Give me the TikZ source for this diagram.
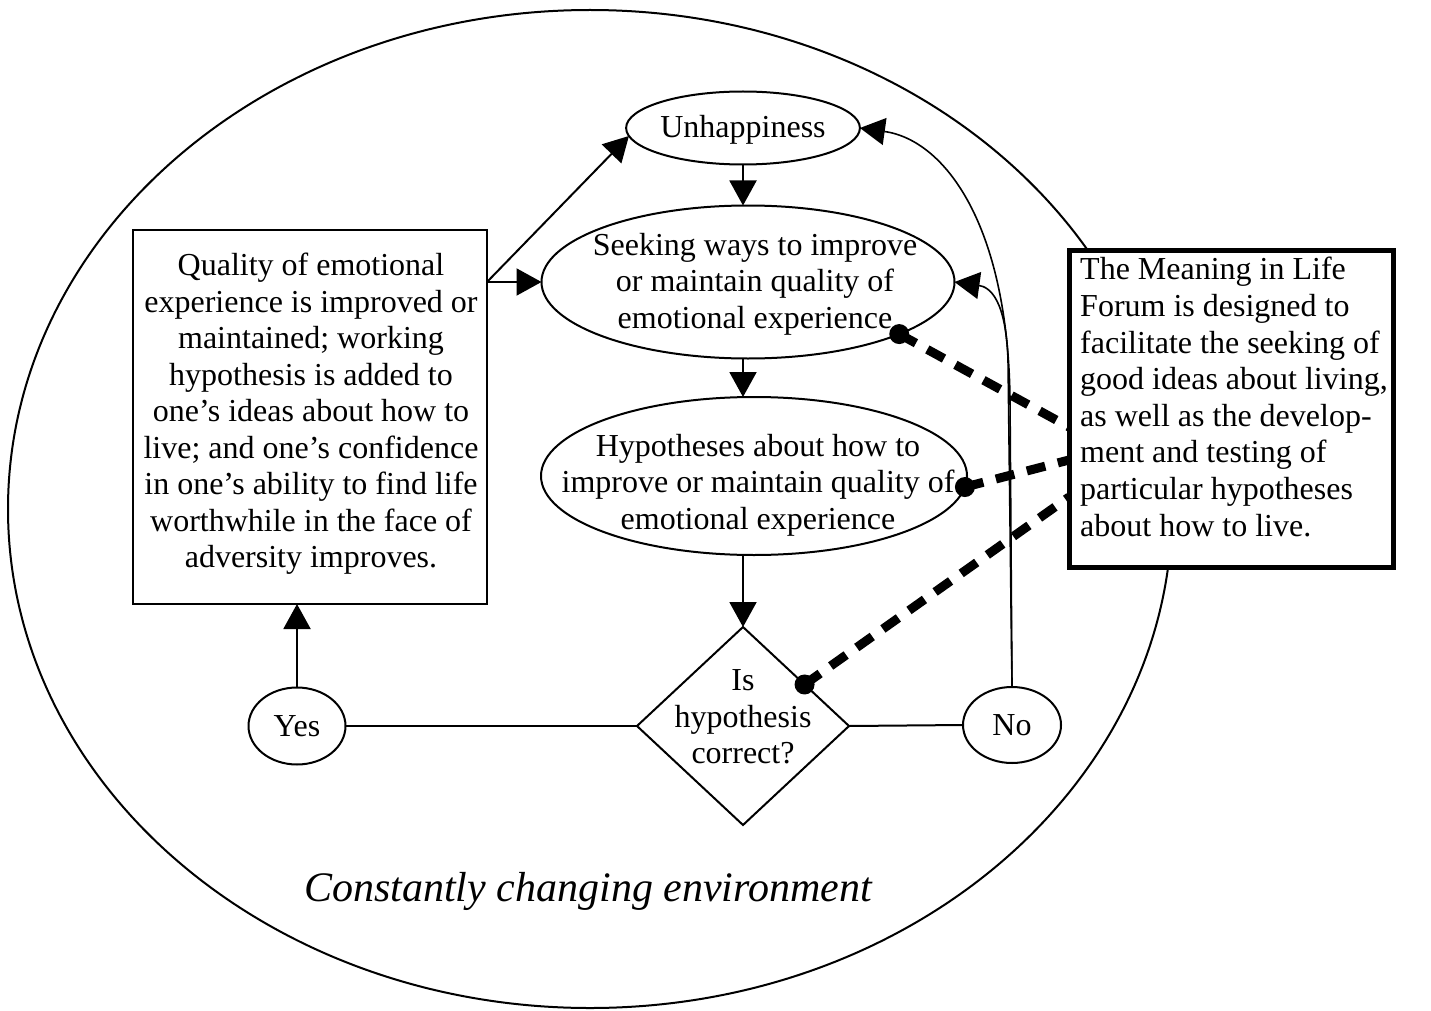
\documentclass[tikz,border=0pt]{standalone}
\usepackage{fontspec}
\setmainfont{Liberation Serif}
\usetikzlibrary{shapes.geometric,arrows.meta}
\begin{document}
\begin{tikzpicture}[x=1pt,y=-1pt,
  thinln/.style={line width=2pt},
  arr/.style={line width=2pt,-{Triangle[length=25pt,width=27pt]}},
  curvearr/.style={line width=1.6pt,-{Triangle[length=25pt,width=27pt]}},
  shp/.style={draw,line width=2pt,inner sep=0pt,outer sep=0pt},
  txt/.style={font=\fontsize{32}{36.5}\selectfont,align=center,inner sep=0pt},
  dots/.style={line width=9pt,dash pattern=on 19pt off 13pt},
  dotend/.style={fill=black}
]
\useasboundingbox (0,0) rectangle (1431,1011);
% environment
\node[shp,ellipse,minimum width=1164pt,minimum height=998pt] (env) at (590,509) {};
\node[font=\fontsize{42}{48}\selectfont\itshape,inner sep=0pt] (envlbl) at (588,891) {Constantly changing environment};
% main nodes
\node[shp,ellipse,minimum width=231pt,minimum height=73pt,font=\fontsize{32}{36.5}\selectfont,text depth=3pt] (unh) at (743,128) {Unhappiness};
\node[shp,ellipse,minimum width=413pt,minimum height=153pt] (seek) at (748,282) {};
\node[txt] (seektxt) at (755,284) {Seeking ways to improve\\or maintain quality of\\emotional experience};
\node[shp,ellipse,minimum width=426pt,minimum height=158pt] (hyp) at (754,476) {};
\node[txt] (hyptxt) at (758,485) {Hypotheses about how to\\improve or maintain quality of\\emotional experience};
\node[shp,diamond,minimum width=212pt,minimum height=198pt] (dia) at (743,726) {};
\node[txt] (diatxt) at (743,717) {Is\\hypothesis\\correct?};
\node[shp,ellipse,minimum width=97pt,minimum height=77pt,font=\fontsize{32}{36.5}\selectfont] (yes) at (297,726) {Yes};
\node[shp,ellipse,minimum width=98pt,minimum height=76pt,font=\fontsize{32}{36.5}\selectfont] (no) at (1012,725) {No};
\node[shp,rectangle,line width=2.5pt,minimum width=354pt,minimum height=374pt] (lb) at (310,417) {};
\node[txt] (lbtxt) at (311,414) {Quality of emotional\\experience is improved or\\maintained; working\\hypothesis is added to\\one’s ideas about how to\\live; and one’s confidence\\in one’s ability to find life\\worthwhile in the face of\\adversity improves.};
% connectors
\coordinate (lbo) at (lb.east |- seek.west);
\draw[arr] (lbo) -- (unh.184);
\draw[arr] (lbo) -- (seek.west);
\draw[arr] (unh.south) -- (seek.north -| unh.south);
\draw[arr] (seek.south -| unh.south) -- (hyp.north -| unh.south);
\draw[arr] (hyp.south -| dia.north) -- (dia.north);
\draw[thinln] (dia.west) -- (yes.east);
\draw[thinln] (dia.east) -- (no.west);
\draw[arr] (yes.north) -- (lb.south -| yes.north);
\draw[curvearr] (no.north) -- (1010,400) .. controls (1008,225) and (945,140) .. (unh.east);
\draw[curvearr] (no.north) -- (1008,360) .. controls (1006,300) and (990,287) .. (seek.east);
% right box and dashed links
\coordinate (rbA) at (1069,427);
\coordinate (rbB) at (1069,460);
\coordinate (rbC) at (1069,497);
\draw[dots] (seek.341) -- (rbA);
\draw[dots] (hyp.357) -- (rbB);
\draw[dots] (dia.34) -- (rbC);
\fill[dotend] (seek.341) circle (10pt);
\fill[dotend] (hyp.357) circle (10pt);
\fill[dotend] (dia.34) circle (10pt);
\node[draw,fill=white,line width=5pt,inner sep=0pt,minimum width=324pt,minimum height=317pt] (rb) at (1231,408.5) {};
\node[font=\fontsize{32}{36.6}\selectfont,align=left,inner sep=0pt,anchor=west] (rbtxt) at (1080,397) {The Meaning in Life\\Forum is designed to\\facilitate the seeking of\\good ideas about living,\\as well as the develop-\\ment and testing of\\particular hypotheses\\about how to live.};
\end{tikzpicture}
\end{document}
